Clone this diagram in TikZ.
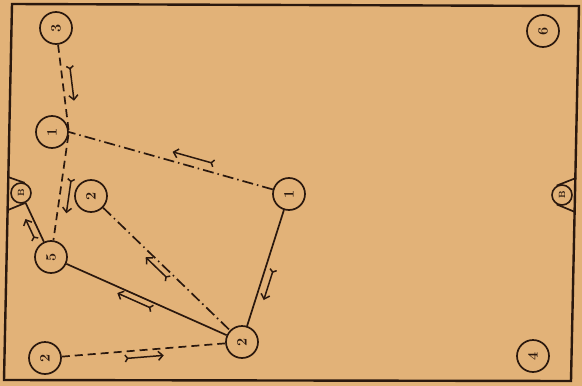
\documentclass[tikz,border=0pt]{standalone}
\usepackage{graphicx}
\usepackage{tikz}
\usetikzlibrary{positioning, arrows.meta, calc}
\definecolor{paper}{RGB}{226,178,120}
\definecolor{ink}{RGB}{42,24,14}
\tikzset{
  post/.style={
    circle, draw=ink, line width=1.7pt,
    minimum size=32pt, inner sep=0pt,
    font=\Large\bfseries, text=ink
  },
  wallpost/.style={
    circle, draw=ink, line width=1.6pt,
    minimum size=20pt, inner sep=0pt,
    font=\small\bfseries, text=ink
  },
  solidrun/.style={draw=ink, line width=1.7pt},
  dashrun/.style={draw=ink, line width=1.7pt, dash pattern=on 8pt off 5pt},
  dotrun/.style={draw=ink, line width=1.7pt, dash pattern=on 11pt off 4pt on 1.5pt off 4pt},
  flow/.style={
    draw=ink, line width=1.5pt,
    arrows={Straight Barb[reversed,length=2.5pt,width=7pt]-Straight Barb[length=4.5pt,width=9pt]}
  },
}

\begin{document}
\begin{tikzpicture}[x=1pt, y=-1pt]
  \fill[paper] (0,0) rectangle (582,386);
  \useasboundingbox (0,0) rectangle (582,386);

  % frame of the sheet
  \draw[ink, line width=2.4pt] (12,4) -- (579,6) -- (571,381) -- (4,380) -- cycle;

  % posts
  \node[post] (p3)  at (56,28)   {\rotatebox{90}{3}};
  \node[post] (p1a) at (52,132)  {\rotatebox{90}{1}};
  \node[post] (p2a) at (91,196)  {\rotatebox{90}{2}};
  \node[post] (p5)  at (51,257)  {\rotatebox{90}{5}};
  \node[post] (p1b) at (289,194) {\rotatebox{90}{1}};
  \node[post] (p2b) at (242,342) {\rotatebox{90}{2}};
  \node[post] (p2c) at (45,358)  {\rotatebox{90}{2}};
  \node[post] (p6)  at (543,31)  {\rotatebox{90}{6}};
  \node[post] (p4)  at (533,356) {\rotatebox{90}{4}};

  % wall posts
  \node[wallpost] (bl) at (21,193)  {\rotatebox{90}{B}};
  \node[wallpost] (br) at (562,195) {\rotatebox{90}{B}};
  \coordinate (blt) at (8,177);
  \coordinate (blb) at (8,210);
  \coordinate (brt) at (576,178);
  \coordinate (brb) at (575,212);
  \draw[solidrun] (blt) -- (bl.70);
  \draw[solidrun] (blb) -- (bl.-70);
  \draw[solidrun] (brt) -- (br.120);
  \draw[solidrun] (brb) -- (br.-120);

  % runs
  \draw[dashrun] (p3) -- (p1a.east) -- (p5);
  \draw[dotrun] (p1b) -- (p1a.east);
  \draw[dotrun] (p2a) -- (p2b);
  \draw[solidrun] (p5) -- (p2b);
  \draw[solidrun] (p1b) -- (p2b);
  \draw[solidrun] (p5) -- (bl);
  \draw[dashrun] (p2c) -- (p2b);

  % direction marks
  \draw[flow] ($(p3)!0.37!(p1a.east)!9pt!90:(p1a.east)$)
    -- ($(p3)!0.71!(p1a.east)!9pt!90:(p1a.east)$);
  \draw[flow] ($(p1a.east)!0.36!(p5)!9pt!90:(p5)$)
    -- ($(p1a.east)!0.64!(p5)!9pt!90:(p5)$);
  \draw[flow] ($(p1b)!0.35!(p1a.east)!9pt!-90:(p1a.east)$)
    -- ($(p1b)!0.54!(p1a.east)!9pt!-90:(p1a.east)$);
  \draw[flow] ($(p2b)!0.46!(p2a)!6pt!90:(p2a)$)
    -- ($(p2b)!0.61!(p2a)!6pt!90:(p2a)$);
  \draw[flow] ($(p2b)!0.455!(p5)!6pt!90:(p5)$)
    -- ($(p2b)!0.64!(p5)!6pt!90:(p5)$);
  \draw[flow] ($(p1b)!0.49!(p2b)!8pt!90:(p2b)$)
    -- ($(p1b)!0.70!(p2b)!8pt!90:(p2b)$);
  \draw[flow] ($(p5)!0.31!(bl)!7pt!90:(bl)$)
    -- ($(p5)!0.64!(bl)!7pt!90:(bl)$);
  \draw[flow] ($(p2c)!0.40!(p2b)!7pt!-90:(p2b)$)
    -- ($(p2c)!0.60!(p2b)!7pt!-90:(p2b)$);
\end{tikzpicture}
\end{document}
